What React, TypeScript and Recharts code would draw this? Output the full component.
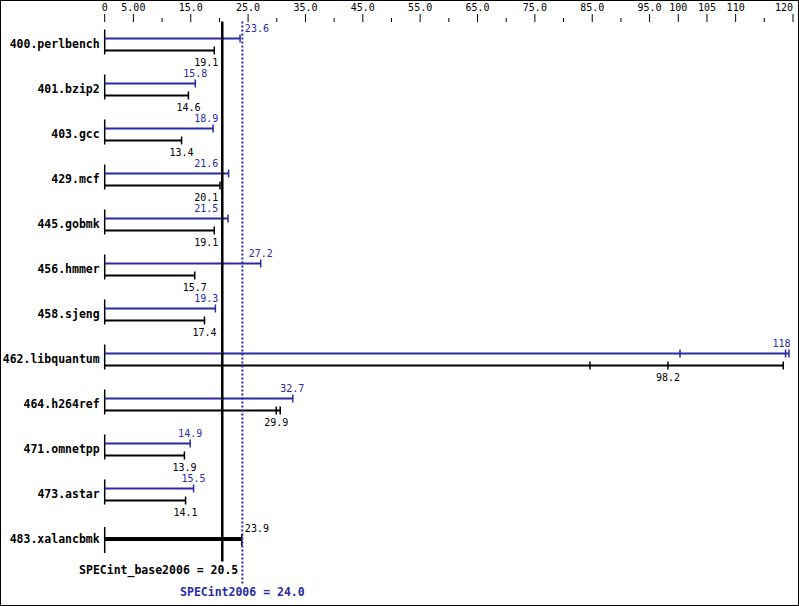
import React from 'react';
import { ComposedChart, Bar, XAxis, YAxis, ReferenceLine } from 'recharts';

const benchmarks = [
  '400.perlbench', '401.bzip2', '403.gcc', '429.mcf', '445.gobmk', '456.hmmer',
  '458.sjeng', '462.libquantum', '464.h264ref', '471.omnetpp', '473.astar', '483.xalancbmk',
];
// median ratios (483.xalancbmk has one bar only)
const peakScores: (number | null)[] = [23.6, 15.8, 18.9, 21.6, 21.5, 27.2, 19.3, 118, 32.7, 14.9, 15.5, null];
const baseScores = [19.1, 14.6, 13.4, 20.1, 19.1, 15.7, 17.4, 98.2, 29.9, 13.9, 14.1, 23.9];
// run marks along each bar
const peakRuns: number[][] = [[23.6], [15.8], [18.9], [21.6], [21.5], [27.2], [19.3], [100.3, 118.7, 119.3], [32.8], [14.9], [15.5], []];
const baseRuns: number[][] = [[19.1], [14.6], [13.4], [20.1], [19.1], [15.7], [17.4], [84.6, 98.2, 118.3], [29.9, 30.6], [13.9], [14.1], [23.9]];

const baseOverall = 20.5;
const peakOverall = 24.0;

const axisTicks = [0, 5, 10, 15, 20, 25, 30, 35, 40, 45, 50, 55, 60, 65, 70, 75, 80, 85, 90, 95, 100, 105, 110, 115, 120];
const axisLabels: Record<number, string> = {
  0: '0', 5: '5.00', 15: '15.0', 25: '25.0', 35: '35.0', 45: '45.0', 55: '55.0', 65: '65.0',
  75: '75.0', 85: '85.0', 95: '95.0', 100: '100', 105: '105', 110: '110', 120: '120',
};

const rows = benchmarks.map((name, i) => ({
  name,
  peak: peakScores[i],
  base: baseScores[i],
  peakRuns: peakRuns[i],
  baseRuns: baseRuns[i],
  peakEnd: peakRuns[i].length ? Math.max(...peakRuns[i]) : null,
  baseEnd: Math.max(...baseRuns[i]),
}));

const BLUE = '#2a2aa6';
const MONO = '"DejaVu Sans Mono", "Liberation Mono", monospace';
const CHAR_W = 6.02;

// keep value labels clear of the two summary lines
const placeLabel = (c: number, w: number, bx: number, dx: number) => {
  const l = c - w / 2;
  const r = c + w / 2;
  const hits = (lx: number) => l < lx + 2 && r > lx - 2;
  if (hits(bx) || hits(dx)) {
    if (c < (bx + dx) / 2) return { x: bx - 4, anchor: 'end' as const };
    return { x: dx + 2.5, anchor: 'start' as const };
  }
  if (r > 793) return { x: 793, anchor: 'end' as const };
  return { x: c, anchor: 'middle' as const };
};

const PeakShape = (props: any) => {
  const { x, y, width, height, payload } = props;
  if (payload.peak == null || !payload.peakEnd) return null;
  const ppu = width / payload.peakEnd;
  const px = (v: number) => x + v * ppu;
  const cy = y + height / 2;
  const txt = String(payload.peak);
  const pos = placeLabel(px(payload.peak), txt.length * CHAR_W, px(baseOverall), px(peakOverall));
  return (
    <g>
      <line x1={x} x2={x} y1={cy - 9} y2={cy + 16} stroke="#000" strokeWidth={1.5} />
      <line x1={x} x2={x + width} y1={cy} y2={cy} stroke={BLUE} strokeWidth={2} />
      {payload.peakRuns.map((v: number, k: number) => (
        <line key={k} x1={px(v)} x2={px(v)} y1={cy - 4} y2={cy + 4} stroke={BLUE} strokeWidth={1.5} />
      ))}
      <text x={pos.x} y={cy - 7} textAnchor={pos.anchor} fill={BLUE} fontFamily={MONO} fontSize={10}>
        {txt}
      </text>
    </g>
  );
};

const BaseShape = (props: any) => {
  const { x, y, width, height, payload } = props;
  const ppu = width / payload.baseEnd;
  const px = (v: number) => x + v * ppu;
  const txt = String(payload.base);
  const pos = placeLabel(px(payload.base), txt.length * CHAR_W, px(baseOverall), px(peakOverall));
  if (payload.peak == null) {
    const cy = y - 5.5;
    return (
      <g>
        <line x1={x} x2={x} y1={cy - 12} y2={cy + 14} stroke="#000" strokeWidth={1.5} />
        <line x1={x} x2={x + width} y1={cy} y2={cy} stroke="#000" strokeWidth={4} />
        {payload.baseRuns.map((v: number, k: number) => (
          <line key={k} x1={px(v)} x2={px(v)} y1={cy - 5} y2={cy + 7} stroke="#000" strokeWidth={1.5} />
        ))}
        <text x={pos.x} y={cy - 7} textAnchor={pos.anchor} fill="#000" fontFamily={MONO} fontSize={10}>
          {txt}
        </text>
      </g>
    );
  }
  const cy = y + height / 2;
  return (
    <g>
      <line x1={x} x2={x + width} y1={cy} y2={cy} stroke="#000" strokeWidth={2} />
      {payload.baseRuns.map((v: number, k: number) => (
        <line key={k} x1={px(v)} x2={px(v)} y1={cy - 4} y2={cy + 4} stroke="#000" strokeWidth={1.5} />
      ))}
      <text x={pos.x} y={cy + 15} textAnchor={pos.anchor} fill="#000" fontFamily={MONO} fontSize={10}>
        {txt}
      </text>
    </g>
  );
};

const AxisTick = (props: any) => {
  const { x, payload } = props;
  const label = axisLabels[payload.value];
  const major = label !== undefined;
  return (
    <g>
      <line x1={x} x2={x} y1={major ? 14 : 18} y2={22} stroke="#000" strokeWidth={1} />
      {major && (
        <text
          x={payload.value === 120 ? x : x}
          y={11}
          textAnchor={payload.value === 120 ? 'end' : 'middle'}
          fill="#000"
          fontFamily={MONO}
          fontSize={10}
        >
          {label}
        </text>
      )}
    </g>
  );
};

const BaseLine = (p: any) => (
  <g>
    <line x1={p.x1} x2={p.x2} y1={p.y1} y2={p.y2} stroke="#000" strokeWidth={2.5} />
    <text x={p.x1 + 16} y={p.y2 + 12.5} textAnchor="end" fill="#000" fontFamily={MONO} fontSize={11.5} fontWeight="bold">
      {`SPECint_base2006 = ${baseOverall.toFixed(1)}`}
    </text>
  </g>
);

const PeakLine = (p: any) => (
  <g>
    <line x1={p.x1} x2={p.x2} y1={p.y1} y2={p.y2 + 22} stroke={BLUE} strokeWidth={2} strokeDasharray="2 2" />
    <text x={p.x1} y={p.y2 + 34.5} textAnchor="middle" fill={BLUE} fontFamily={MONO} fontSize={11.5} fontWeight="bold">
      {`SPECint2006 = ${peakOverall.toFixed(1)}`}
    </text>
  </g>
);

const App: React.FC = () => {
  return (
    <div style={{ position: 'absolute', left: 0, top: 0, width: 799, height: 606, background: '#fff' }}>
      <ComposedChart
        width={799}
        height={606}
        data={rows}
        layout="vertical"
        margin={{ top: 0, right: 6, bottom: 44.5, left: 0 }}
        barSize={2}
        barGap={10}
      >
        <XAxis
          type="number"
          orientation="top"
          domain={[0, 120]}
          ticks={axisTicks}
          interval={0}
          height={21.5}
          axisLine={false}
          tickLine={false}
          tick={<AxisTick />}
        />
        <YAxis
          type="category"
          dataKey="name"
          width={104.7}
          axisLine={false}
          tickLine={false}
          tickSize={3}
          tickMargin={2}
          interval={0}
          tick={{ fill: '#000', fontFamily: MONO, fontSize: 11.5, fontWeight: 'bold' }}
        />
        <ReferenceLine x={baseOverall} shape={BaseLine} />
        <ReferenceLine x={peakOverall} shape={PeakLine} />
        <Bar dataKey="peakEnd" shape={PeakShape} isAnimationActive={false} />
        <Bar dataKey="baseEnd" shape={BaseShape} isAnimationActive={false} />
      </ComposedChart>
      <div
        style={{
          position: 'absolute', left: 0, top: 0, width: 799, height: 606,
          border: '1px solid #000', boxSizing: 'border-box', pointerEvents: 'none',
        }}
      />
    </div>
  );
};

export default App;
